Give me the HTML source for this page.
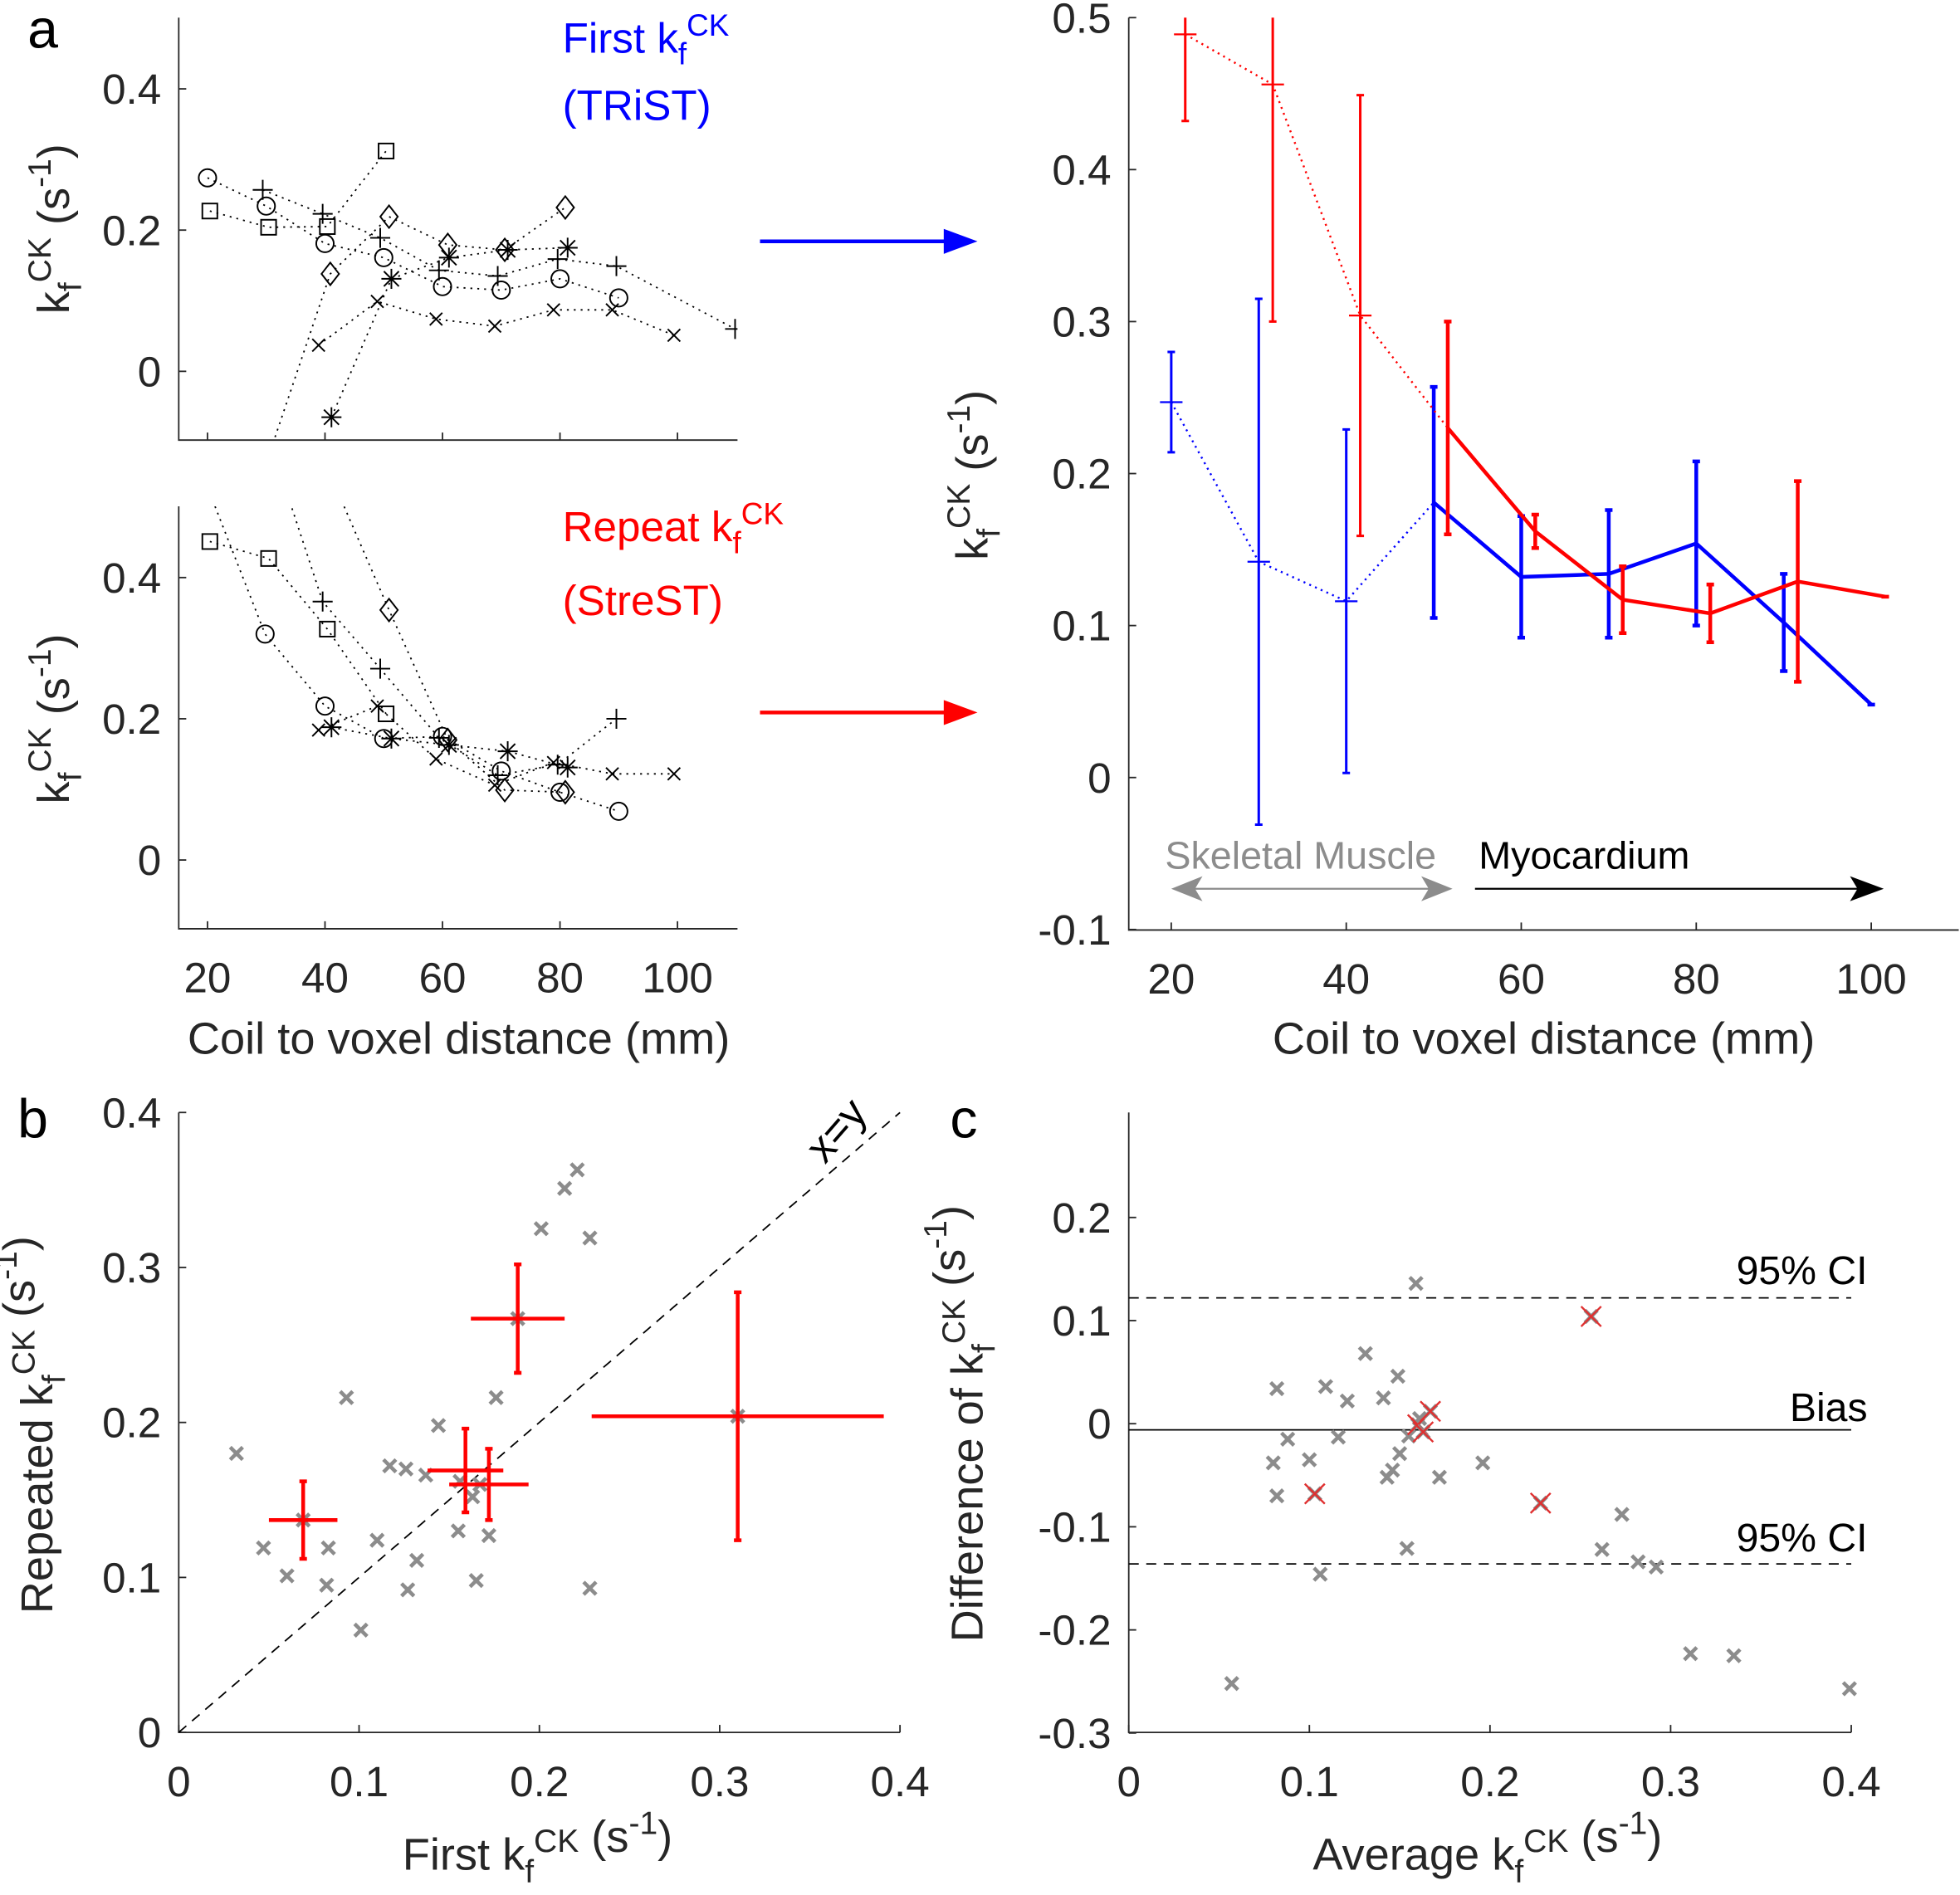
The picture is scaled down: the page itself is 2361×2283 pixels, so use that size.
<!DOCTYPE html>
<html><head><meta charset="utf-8">
<style>html,body{margin:0;padding:0;background:#fff}svg{display:block}text{font-family:"Liberation Sans",sans-serif;fill:#262626}</style>
</head><body>
<svg id="fig" xmlns="http://www.w3.org/2000/svg" width="2361" height="2283" viewBox="0 0 1568 1516">
<defs>
<clipPath id="cA1"><rect x="143" y="14" width="447" height="338"/></clipPath>
<clipPath id="cA2"><rect x="143" y="405" width="447" height="338"/></clipPath>
<clipPath id="cR"><rect x="903" y="14" width="664" height="730"/></clipPath>
</defs>
<g id="root"></g>
</svg>
<script>
// ---------- data ----------
const aTopCircX=[20,30,40,50,60,70,80,90];
const aTopCircY=[0.274,0.234,0.181,0.161,0.120,0.115,0.131,0.104];
const aTopSqX=[20.4,30.4,40.4,50.4];
const aTopSqY=[0.227,0.204,0.205,0.312];
const aTopPlusX=[29.4,39.6,49.4,59.4,69.4,79.6,89.6,109.8];
const aTopPlusY=[0.257,0.223,0.189,0.143,0.135,0.159,0.149,0.060];
const aTopDiaX=[30,40.9,50.9,60.9,70.6,80.9];
const aTopDiaY=[-0.13,0.138,0.219,0.179,0.172,0.232];
const aTopXX=[38.9,48.9,58.9,68.9,78.9,88.9,99.4];
const aTopXY=[0.037,0.099,0.074,0.064,0.087,0.087,0.051];
const aTopAstX=[41.1,51.3,61.1,71.1,81.3];
const aTopAstY=[-0.065,0.131,0.161,0.172,0.175];
const aBotSqX=[20.4,30.4,40.4,50.4];
const aBotSqY=[0.451,0.427,0.327,0.207];
const aBotCircX=[20,29.8,40,50,60,70,80,90];
const aBotCircY=[0.528,0.320,0.218,0.172,0.175,0.126,0.096,0.069];
const aBotPlusX=[30,39.6,49.4,59.4,69.4,79.6,89.6];
const aBotPlusY=[0.609,0.366,0.271,0.173,0.120,0.135,0.200];
const aBotDiaX=[40,50.9,60.9,70.6,80.9];
const aBotDiaY=[0.563,0.354,0.170,0.099,0.096];
const aBotXX=[38.9,48.9,58.9,68.9,78.9,88.9,99.4];
const aBotXY=[0.184,0.218,0.143,0.106,0.138,0.122,0.122];
const aBotAstX=[41.1,51.3,61.1,71.1,81.3];
const aBotAstY=[0.188,0.172,0.163,0.154,0.131];
const redX=[21.6,31.6,41.6,51.6,61.6,71.6,81.6,91.6,101.6];
const redY=[0.489,0.456,0.304,0.230,0.162,0.117,0.108,0.129,0.119];
const redE=[0.057,0.156,0.145,0.070,0.011,0.022,0.019,0.066,0];
const blueX=[20,30,40,50,60,70,80,90,100];
const blueY=[0.247,0.142,0.116,0.181,0.132,0.134,0.154,0.102,0.048];
const blueE=[0.033,0.173,0.113,0.076,0.040,0.042,0.054,0.032,0];
const bGrayX=[0.032,0.047,0.060,0.082,0.083,0.093,0.101,0.110,0.117,0.126,0.127,0.132,0.137,0.144,0.155,0.156,0.165,0.167,0.172,0.176,0.163,0.201,0.214,0.221,0.228,0.228,0.069,0.188,0.310];
const bGrayY=[0.180,0.119,0.101,0.095,0.119,0.216,0.066,0.124,0.172,0.170,0.092,0.111,0.166,0.198,0.130,0.162,0.098,0.160,0.127,0.216,0.152,0.325,0.351,0.363,0.319,0.093,0.137,0.267,0.204];
const bRedX=[0.069,0.188,0.310,0.159,0.172];
const bRedXE=[0.019,0.026,0.081,0.021,0.022];
const bRedY=[0.137,0.267,0.204,0.169,0.160];
const bRedYE=[0.025,0.035,0.080,0.027,0.023];
const cGrayX=[0.057,0.082,0.080,0.082,0.088,0.100,0.106,0.109,0.116,0.121,0.131,0.141,0.143,0.146,0.149,0.150,0.154,0.155,0.159,0.161,0.172,0.196,0.262,0.273,0.282,0.292,0.311,0.335,0.399];
const cGrayY=[-0.252,0.034,-0.038,-0.070,-0.015,-0.035,-0.146,0.036,-0.013,0.022,0.068,0.025,-0.052,-0.045,0.046,-0.029,-0.121,-0.012,0.136,0.005,-0.052,-0.038,-0.122,-0.088,-0.134,-0.139,-0.223,-0.225,-0.257];
const cRedX=[0.103,0.228,0.256,0.160,0.167,0.163];
const cRedY=[-0.068,-0.077,0.104,-0.001,0.012,-0.008];
const cBias=-0.006, cUpper=0.122, cLower=-0.136;
const aTicksX=[20,40,60,80,100];
const aTicksY=[0,0.2,0.4];
const rTicksY=[-0.1,0,0.1,0.2,0.3,0.4,0.5];
const bTicks=[0,0.1,0.2,0.3,0.4];
const cTicksY=[-0.3,-0.2,-0.1,0,0.1,0.2];

// ---------- helpers ----------
const NS="http://www.w3.org/2000/svg";
const root=document.getElementById('root');
function mk(tag,attrs,parent){const e=document.createElementNS(NS,tag);for(const k in attrs)e.setAttribute(k,attrs[k]);(parent||root).appendChild(e);return e;}
function lin(d0,d1,p0,p1){return v=>p0+(v-d0)*(p1-p0)/(d1-d0);}
const aX=lin(20,100,166,542);
const aTY=lin(0,0.4,297,71);
const aBY=lin(0,0.4,688,462);
const rX=lin(20,100,937,1497);
const rY=lin(0,0.5,622,14);
const bX=lin(0,0.4,143,720);
const bY=lin(0,0.4,1386,890);
const cX=lin(0,0.4,903,1481);
const cY=lin(0,0.2,1139,974);

function richText(x,y,segs,size,opts){
  opts=opts||{};
  const t=mk('text',{x:x,y:y,'font-size':size,'text-anchor':opts.anchor||'start',transform:opts.rot?`rotate(-90 ${x} ${y})`:''},opts.parent);
  
  
  if(opts.fill)t.style.fill=opts.fill;
  let cur=0;
  segs.forEach(s=>{
    const sp=mk('tspan',{},t);
    let target=0,fs=size;
    if(s[1]==='sub'){target=size*0.28;fs=size*0.72;}
    if(s[1]==='sup'){target=-size*0.4;fs=size*0.72;}
    sp.setAttribute('dy',target-cur);cur=target;
    sp.setAttribute('font-size',fs);
    sp.textContent=s[0];
  });
  return t;
}
const KF=(pre,post)=>[[pre,'n'],['k','n'],['f','sub'],['CK','sup'],[post,'n']];
const UNIT=[[' (s','n'],['-1','sup'],[')','n']];

function marker(type,px,py,g,color,sz){
  color=color||'#000';sz=sz||7;
  const st={stroke:color,'stroke-width':1.3,fill:'none'};
  let e;
  if(type==='o'){e=mk('circle',Object.assign({cx:px,cy:py,r:sz},st),g);}
  else if(type==='s'){e=mk('rect',Object.assign({x:px-6,y:py-6,width:12,height:12},st),g);}
  else if(type==='d'){e=mk('path',Object.assign({d:`M${px},${py-9}L${px+7},${py}L${px},${py+9}L${px-7},${py}Z`},st),g);}
  else if(type==='+'){e=mk('path',Object.assign({d:`M${px-8},${py}H${px+8}M${px},${py-8}V${py+8}`},st),g);}
  else if(type==='x'){e=mk('path',Object.assign({d:`M${px-5},${py-5}L${px+5},${py+5}M${px-5},${py+5}L${px+5},${py-5}`},st),g);}
  else if(type==='*'){e=mk('path',Object.assign({d:`M${px-8},${py}H${px+8}M${px},${py-8}V${py+8}M${px-6},${py-6}L${px+6},${py+6}M${px-6},${py+6}L${px+6},${py-6}`},st),g);}
  else if(type==='X'){e=mk('path',{d:`M${px-5},${py-5}L${px+5},${py+5}M${px-5},${py+5}L${px+5},${py-5}`,stroke:color,'stroke-width':3,fill:'none'},g);}
  else if(type==='XR'){e=mk('path',{d:`M${px-8},${py-8}L${px+8},${py+8}M${px-8},${py+8}L${px+8},${py-8}`,stroke:color,'stroke-width':1.6,fill:'none'},g);}
  
  
  return e;
}
function series(xs,ys,sx,sy,type,g,name){
  const sg=mk('g',{},g);
  
  
  const pts=xs.map((x,i)=>sx(x)+','+sy(ys[i])).join(' ');
  mk('polyline',{points:pts,fill:'none',stroke:'#000','stroke-width':1.2,'stroke-dasharray':'1.5 4'},sg);
  xs.forEach((x,i)=>marker(type,sx(x),sy(ys[i]),sg));
}
function axesLines(x0,x1,y0,y1,name){
  const g=mk('g',{});
  
  
  mk('path',{d:`M${x0},${y0}V${y1}H${x1}`,stroke:'#262626','stroke-width':1.2,fill:'none'},g);
  return g;
}
function yTicks(g,vals,sy,x0,fmt,name){
  vals.forEach(v=>{
    const y=sy(v);
    mk('line',{x1:x0,x2:x0+6,y1:y,y2:y,stroke:'#262626','stroke-width':1.2},g);
    const t=mk('text',{x:x0-14,y:y+12,'font-size':34,'text-anchor':'end'},g);
    
    
    t.textContent=fmt(v);
  });
}
function xTicks(g,vals,sx,y0,fmt,name){
  vals.forEach(v=>{
    const x=sx(v);
    mk('line',{x1:x,x2:x,y1:y0,y2:y0-6,stroke:'#262626','stroke-width':1.2},g);
    const t=mk('text',{x:x,y:y0+51,'font-size':34,'text-anchor':'middle'},g);
    
    
    t.textContent=fmt(v);
  });
}
const f1=v=>(Math.abs(v)<1e-9?'0':String(+v.toFixed(1)));
const YLAB=[['k','n'],['f','sub'],['CK','sup']].concat(UNIT);

// ---------- panel a top ----------
let gA1=axesLines(143,590,14,352,'panel-a-top-axes');
yTicks(gA1,aTicksY,aTY,143,f1,'y-tick-label');
aTicksX.forEach(v=>mk('line',{x1:aX(v),x2:aX(v),y1:352,y2:346,stroke:'#262626','stroke-width':1.2},gA1));
let pA1=mk('g',{'clip-path':'url(#cA1)'});


series(aTopCircX,aTopCircY,aX,aTY,'o',pA1,'series-circle');
series(aTopSqX,aTopSqY,aX,aTY,'s',pA1,'series-square');
series(aTopPlusX,aTopPlusY,aX,aTY,'+',pA1,'series-plus');
series(aTopDiaX,aTopDiaY,aX,aTY,'d',pA1,'series-diamond');
series(aTopXX,aTopXY,aX,aTY,'x',pA1,'series-cross');
series(aTopAstX,aTopAstY,aX,aTY,'*',pA1,'series-asterisk');
richText(55,183,YLAB,36,{anchor:'middle',rot:true,name:'y-axis-title'});

// ---------- panel a bottom ----------
let gA2=axesLines(143,590,405,743,'panel-a-bottom-axes');
yTicks(gA2,aTicksY,aBY,143,f1,'y-tick-label');
xTicks(gA2,aTicksX,aX,743,v=>String(v),'x-tick-label');
let pA2=mk('g',{'clip-path':'url(#cA2)'});


series(aBotSqX,aBotSqY,aX,aBY,'s',pA2,'series-square');
series(aBotCircX,aBotCircY,aX,aBY,'o',pA2,'series-circle');
series(aBotPlusX,aBotPlusY,aX,aBY,'+',pA2,'series-plus');
series(aBotDiaX,aBotDiaY,aX,aBY,'d',pA2,'series-diamond');
series(aBotXX,aBotXY,aX,aBY,'x',pA2,'series-cross');
series(aBotAstX,aBotAstY,aX,aBY,'*',pA2,'series-asterisk');
richText(55,575,YLAB,36,{anchor:'middle',rot:true,name:'y-axis-title'});
let t=mk('text',{x:367,y:843,'font-size':36,'text-anchor':'middle'});


t.textContent='Coil to voxel distance (mm)';
t=mk('text',{x:22,y:38,'font-size':44});


t.style.fill='#000';t.textContent='a';

richText(450,42,KF('First ',''),34,{fill:'#0000ff',name:'first-label'});
t=mk('text',{x:450,y:96,'font-size':34});


t.style.fill='#0000ff';t.textContent='(TRiST)';
richText(450,433,KF('Repeat ',''),34,{fill:'#ff0000',name:'repeat-label'});
t=mk('text',{x:450,y:492,'font-size':34});


t.style.fill='#ff0000';t.textContent='(StreST)';
let ar=mk('path',{d:'M608,193H762',stroke:'#0000ff','stroke-width':3,fill:'none'});

mk('path',{d:'M755,183L782,193L755,203Z',fill:'#0000ff'});
ar=mk('path',{d:'M608,570H762',stroke:'#ff0000','stroke-width':3,fill:'none'});

mk('path',{d:'M755,560L782,570L755,580Z',fill:'#ff0000'});

// ---------- right panel ----------
let gR=axesLines(903,1567,14,744,'panel-a-right-axes');
yTicks(gR,rTicksY,rY,903,f1,'y-tick-label');
xTicks(gR,aTicksX,rX,744,v=>String(v),'x-tick-label');
t=mk('text',{x:1235,y:843,'font-size':36,'text-anchor':'middle'});


t.textContent='Coil to voxel distance (mm)';
richText(790,380,YLAB,36,{anchor:'middle',rot:true,name:'y-axis-title'});
let pR=mk('g',{'clip-path':'url(#cR)'});


function meanSeries(xs,ys,es,color,name,splitIdx){
  const g=mk('g',{},pR);
  
  
  const p=xs.map((x,i)=>[rX(x),rY(ys[i])]);
  mk('polyline',{points:p.slice(0,splitIdx+1).map(q=>q.join(',')).join(' '),fill:'none',stroke:color,'stroke-width':1.6,'stroke-dasharray':'1.5 3.5'},g);
  mk('polyline',{points:p.slice(splitIdx).map(q=>q.join(',')).join(' '),fill:'none',stroke:color,'stroke-width':3},g);
  xs.forEach((x,i)=>{
    const px=rX(x),py=rY(ys[i]),top=rY(ys[i]+es[i]),bot=rY(ys[i]-es[i]);
    const w=i>=splitIdx?3:2;
    const e=mk('path',{d:`M${px},${top}V${bot}M${px-3},${top}H${px+3}M${px-3},${bot}H${px+3}`,stroke:color,'stroke-width':w,fill:'none'},g);
    
    
    if(i<splitIdx)mk('path',{d:`M${px-9},${py}H${px+9}M${px},${py-9}V${py+9}`,stroke:color,'stroke-width':1.5},g);
  });
}
meanSeries(blueX,blueY,blueE,'#0000ff','first-mean-series',3);
meanSeries(redX,redY,redE,'#ff0000','repeat-mean-series',3);
t=mk('text',{x:932,y:695,'font-size':31});


t.style.fill='#8c8c8c';t.textContent='Skeletal Muscle';
t=mk('text',{x:1183,y:695,'font-size':31});


t.style.fill='#000';t.textContent='Myocardium';
ar=mk('path',{d:'M950,711H1147',stroke:'#8c8c8c','stroke-width':1.5});

mk('path',{d:'M937,711L962,701L956,711L962,721Z',fill:'#8c8c8c'});
mk('path',{d:'M1162,711L1137,701L1143,711L1137,721Z',fill:'#8c8c8c'});
ar=mk('path',{d:'M1180,711H1490',stroke:'#000','stroke-width':1.5});

mk('path',{d:'M1507,711L1480,701L1486,711L1480,721Z',fill:'#000'});

// ---------- panel b ----------
let gB=axesLines(143,720,890,1386,'panel-b-axes');
yTicks(gB,bTicks,bY,143,f1,'y-tick-label');
xTicks(gB,bTicks,bX,1386,f1,'x-tick-label');
let diag=mk('line',{x1:bX(0),y1:bY(0),x2:bX(0.4),y2:bY(0.4),stroke:'#000','stroke-width':1.2,'stroke-dasharray':'8 6'});

t=mk('text',{x:660,y:932,'font-size':34,transform:'rotate(-49 660 932)'});


t.style.fill='#000';t.textContent='x=y';
bGrayX.forEach((x,i)=>marker('X',bX(x),bY(bGrayY[i]),root,'#8c8c8c'));
bRedX.forEach((x,i)=>{
  const px=bX(x),py=bY(bRedY[i]);
  const e=mk('path',{d:`M${bX(x-bRedXE[i])},${py}H${bX(x+bRedXE[i])}M${px},${bY(bRedY[i]+bRedYE[i])}V${bY(bRedY[i]-bRedYE[i])}M${px-3},${bY(bRedY[i]+bRedYE[i])}H${px+3}M${px-3},${bY(bRedY[i]-bRedYE[i])}H${px+3}`,stroke:'#ff0000','stroke-width':3,fill:'none'});
  
  
});
t=mk('text',{x:14,y:910,'font-size':44});


t.style.fill='#000';t.textContent='b';
richText(430,1496,KF('First ','').concat(UNIT),36,{anchor:'middle',name:'x-axis-title'});
richText(42,1140,KF('Repeated ','').concat(UNIT),36,{anchor:'middle',rot:true,name:'y-axis-title'});

// ---------- panel c ----------
let gC=axesLines(903,1481,890,1386,'panel-c-axes');
yTicks(gC,cTicksY,cY,903,f1,'y-tick-label');
xTicks(gC,bTicks,cX,1386,f1,'x-tick-label');
[[cUpper,'upper-ci-line','8 6'],[cLower,'lower-ci-line','8 6'],[cBias,'bias-line','']].forEach(l=>{
  const e=mk('line',{x1:903,x2:1481,y1:cY(l[0]),y2:cY(l[0]),stroke:'#000','stroke-width':1.2,'stroke-dasharray':l[2]});
  
  
});
[['95% CI',cY(cUpper)-11,'upper-ci-label'],['Bias',cY(cBias)-7,'bias-label'],['95% CI',cY(cLower)-10,'lower-ci-label']].forEach(l=>{
  const e=mk('text',{x:1494,y:l[1],'font-size':32,'text-anchor':'end'});
  
  
  e.style.fill='#000';e.textContent=l[0];
});
cGrayX.forEach((x,i)=>marker('X',cX(x),cY(cGrayY[i]),root,'#8c8c8c'));
cRedX.forEach((x,i)=>{marker('X',cX(x),cY(cRedY[i]),root,'#8c8c8c');marker('XR',cX(x),cY(cRedY[i]),root,'#e03030');});
t=mk('text',{x:760,y:910,'font-size':44});


t.style.fill='#000';t.textContent='c';
richText(1190,1496,KF('Average ','').concat(UNIT),36,{anchor:'middle',name:'x-axis-title'});
richText(786,1139,KF('Difference of ','').concat(UNIT),36,{anchor:'middle',rot:true,name:'y-axis-title'});
</script>
</body></html>
